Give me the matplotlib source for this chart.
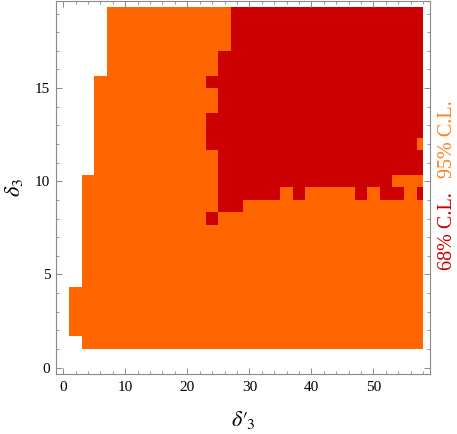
import numpy as np
import matplotlib
matplotlib.use("Agg")
import matplotlib.pyplot as plt
from matplotlib.colors import ListedColormap
from matplotlib.ticker import MultipleLocator

plt.rcParams['font.family'] = ['Liberation Serif', 'DejaVu Serif']
plt.rcParams['mathtext.fontset'] = 'stix'

# grid of scanned points (cell centres)
delta3p = [0, 2, 4, 6, 8, 10, 12, 14, 16, 18, 20, 22, 24, 26, 28,
           30, 32, 34, 36, 38, 40, 42, 44, 46, 48, 50, 52, 54, 56, 58]
delta3 = [0, 2/3, 4/3, 2, 8/3, 10/3, 4, 14/3, 16/3, 6, 20/3, 22/3, 8, 26/3, 28/3,
          10, 32/3, 34/3, 12, 38/3, 40/3, 14, 44/3, 46/3, 16, 50/3, 52/3, 18, 56/3, 58/3]

# confidence level of every cell, top row (delta3 = 58/3) first,
# written in blocks of ten columns
# '.' = excluded, 'o' = inside 95% C.L., 'r' = inside 68% C.L.
cl_map = [
    "....oooooo oooorrrrrr rrrrrrrrrr",
    "....oooooo oooorrrrrr rrrrrrrrrr",
    "....oooooo oooorrrrrr rrrrrrrrrr",
    "....oooooo oooorrrrrr rrrrrrrrrr",
    "....oooooo ooorrrrrrr rrrrrrrrrr",
    "....oooooo ooorrrrrrr rrrrrrrrrr",
    "...ooooooo oorrrrrrrr rrrrrrrrrr",
    "...ooooooo ooorrrrrrr rrrrrrrrrr",
    "...ooooooo ooorrrrrrr rrrrrrrrrr",
    "...ooooooo oorrrrrrrr rrrrrrrrrr",
    "...ooooooo oorrrrrrrr rrrrrrrrrr",
    "...ooooooo oorrrrrrrr rrrrrrrrro",
    "...ooooooo ooorrrrrrr rrrrrrrrrr",
    "...ooooooo ooorrrrrrr rrrrrrrrrr",
    "..oooooooo ooorrrrrrr rrrrrrrooo",
    "..oooooooo ooorrrrror oooororror",
    "..oooooooo ooorrooooo oooooooooo",
    "..oooooooo oorooooooo oooooooooo",
    "..oooooooo oooooooooo oooooooooo",
    "..oooooooo oooooooooo oooooooooo",
    "..oooooooo oooooooooo oooooooooo",
    "..oooooooo oooooooooo oooooooooo",
    "..oooooooo oooooooooo oooooooooo",
    ".ooooooooo oooooooooo oooooooooo",
    ".ooooooooo oooooooooo oooooooooo",
    ".ooooooooo oooooooooo oooooooooo",
    ".ooooooooo oooooooooo oooooooooo",
    "..oooooooo oooooooooo oooooooooo",
    ".......... .......... ..........",
    ".......... .......... ..........",
]

level_labels = ["68% C.L.", "95% C.L."]
level_colors = ["#cc0000", "#ff6600"]
label_colors = ["#cc0000", "#ff7f1a"]


def cell_edges(centres):
    c = np.asarray(centres, dtype=float)
    mid = (c[1:] + c[:-1]) / 2
    return np.concatenate([[c[0]], mid, [c[-1]]])


code = {'.': 0, 'o': 1, 'r': 2}
z = np.array([[code[ch] for ch in row.replace(' ', '')] for row in cl_map[::-1]],
             dtype=float)
z = np.ma.masked_equal(z, 0)

fig = plt.figure(figsize=(4.57, 4.34), dpi=100)
ax = fig.add_axes([0.122, 0.139, 0.820, 0.858])

cmap = ListedColormap([level_colors[1], level_colors[0]])
ax.pcolormesh(cell_edges(delta3p), cell_edges(delta3), z, cmap=cmap,
              vmin=0.5, vmax=2.5, shading='flat', linewidth=0)

ax.set_xlim(-1.2, 59.2)
ax.set_ylim(-0.33, 19.66)

ax.xaxis.set_major_locator(MultipleLocator(10))
ax.xaxis.set_minor_locator(MultipleLocator(2))
ax.yaxis.set_major_locator(MultipleLocator(5))
ax.yaxis.set_minor_locator(MultipleLocator(1))

frame_color = '#8a8a8a'
for sp in ax.spines.values():
    sp.set_color(frame_color)
    sp.set_linewidth(0.8)
ax.tick_params(which='both', direction='in', top=True, right=True,
               color=frame_color, labelsize=11, labelcolor='black')
ax.tick_params(which='major', length=4.5, width=0.7)
ax.tick_params(which='minor', length=2.5, width=0.6)
ax.tick_params(axis='x', pad=5)
ax.tick_params(axis='y', pad=4)

ax.set_xlabel(r"$\delta\prime_{\!3}$", fontsize=16, labelpad=11)
ax.set_ylabel(r"$\delta_3$", fontsize=16, labelpad=7)

# rotated legend on the right
fig.text(0.980, 0.468, level_labels[0], color=label_colors[0], rotation=90,
         ha='center', va='center', fontsize=14.5)
fig.text(0.980, 0.680, level_labels[1], color=label_colors[1], rotation=90,
         ha='center', va='center', fontsize=14.5)

fig.savefig("out.png", dpi=100)
